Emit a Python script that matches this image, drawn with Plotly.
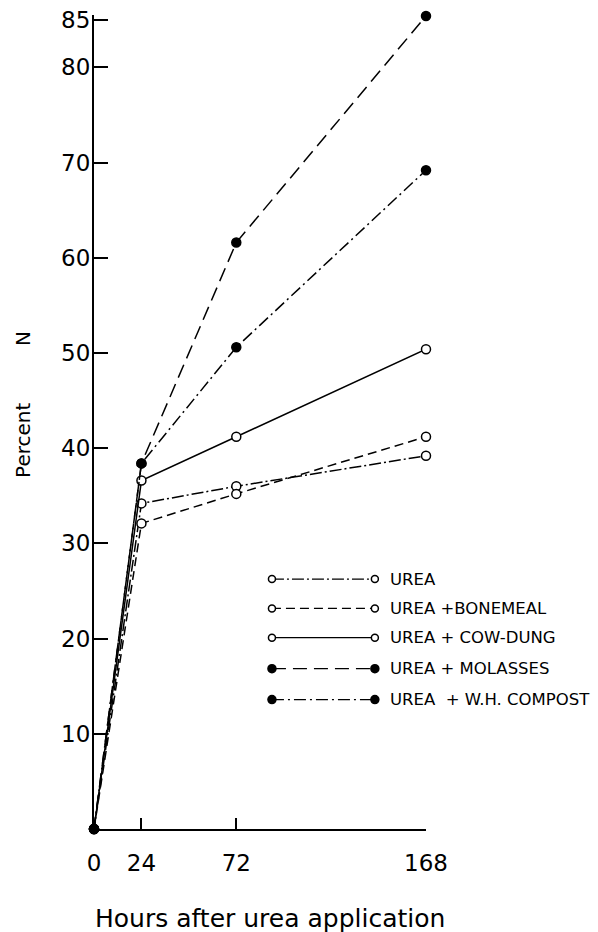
import plotly.graph_objects as go

hours = [0, 24, 72, 168]
urea = [0, 34.2, 36.0, 39.2]
bonemeal = [0, 32.1, 35.2, 41.2]
cowdung = [0, 36.6, 41.2, 50.4]
molasses = [0, 38.4, 61.6, 85.4]
compost = [0, 38.4, 50.6, 69.2]

series_names = ["UREA", "UREA +BONEMEAL", "UREA + COW-DUNG", "UREA + MOLASSES", "UREA\u00a0 + W.H. COMPOST"]
series_values = [urea, bonemeal, cowdung, molasses, compost]
series_dash = ["12px,3px,2px,3px", "9px,5px", "solid", "14px,7px", "12px,4px,2px,4px"]
series_filled = [False, False, False, True, True]

y_tickvals = [10, 20, 30, 40, 50, 60, 70, 80, 85]
x_tickvals = [0, 24, 72, 168]
x_ticktext = ["0", "24", "72", "168"]

FONT = "DejaVu Sans"
fig = go.Figure()

for name, vals, dash, filled in zip(series_names, series_values, series_dash, series_filled):
    fig.add_trace(go.Scatter(
        x=hours, y=vals, mode="lines+markers", name=name,
        line=dict(color="black", width=1.5, dash=dash),
        marker=dict(symbol="circle", size=9,
                    color="black" if filled else "white",
                    line=dict(color="black", width=1.5)),
        cliponaxis=False, showlegend=False,
    ))

# legend samples (on an overlay axis spanning the plot area)
# plot area: x 94..426 px, y 15..829 px
leg_rows = [0.307, 0.271, 0.235, 0.197, 0.159]
leg_x0, leg_x1 = 0.536, 0.846
for name, dash, filled, ry in zip(series_names, series_dash, series_filled, leg_rows):
    fig.add_trace(go.Scatter(
        x=[leg_x0, leg_x1], y=[ry, ry], xaxis="x2", yaxis="y2",
        mode="lines+markers",
        line=dict(color="black", width=1.3, dash=dash),
        marker=dict(symbol="circle", size=7 if not filled else 8,
                    color="black" if filled else "white",
                    line=dict(color="black", width=1.5)),
        cliponaxis=False, showlegend=False, hoverinfo="skip",
    ))
    fig.add_annotation(x=0.886, y=ry, xref="paper", yref="paper",
                       text=name, showarrow=False, xanchor="left", yanchor="middle",
                       font=dict(family=FONT, size=16.5, color="black"))

fig.add_annotation(x=-0.214, y=(829 - 440) / 814, xref="paper", yref="paper", text="Percent",
                   textangle=-90, showarrow=False, xanchor="center", yanchor="middle",
                   font=dict(family=FONT, size=20, color="black"))
fig.add_annotation(x=-0.214, y=(829 - 338) / 814, xref="paper", yref="paper", text="N",
                   textangle=-90, showarrow=False, xanchor="center", yanchor="middle",
                   font=dict(family=FONT, size=20, color="black"))
fig.add_annotation(x=0.530, y=(829 - 918) / 814, xref="paper", yref="paper",
                   text="Hours after urea application", xanchor="center", yanchor="middle",
                   showarrow=False, font=dict(family=FONT, size=25, color="black"))

fig.update_layout(
    width=598, height=932,
    margin=dict(l=94, r=172, t=15, b=103, autoexpand=False),
    paper_bgcolor="white", plot_bgcolor="white",
    showlegend=False,
    xaxis=dict(range=[0, 168], showgrid=False, zeroline=False, automargin=False,
               showline=True, linecolor="black", linewidth=2,
               tickmode="array", tickvals=x_tickvals, ticktext=x_ticktext,
               ticks="inside", ticklen=11, tickwidth=2, tickcolor="black",
               ticklabelstandoff=12,
               tickfont=dict(family=FONT, size=23, color="black")),
    yaxis=dict(range=[0, 85.5], showgrid=False, zeroline=False, automargin=False,
               showline=True, linecolor="black", linewidth=2,
               tickmode="array", tickvals=y_tickvals,
               ticks="inside", ticklen=14, tickwidth=2, tickcolor="black",
               ticklabelstandoff=-3,
               tickfont=dict(family=FONT, size=23, color="black")),
    xaxis2=dict(range=[0, 1], overlaying="x", visible=False, fixedrange=True),
    yaxis2=dict(range=[0, 1], overlaying="y", visible=False, fixedrange=True),
)

fig.write_html("out.html", config={"displayModeBar": False},
               post_script="document.body.style.margin='0';document.body.style.overflow='hidden';")
